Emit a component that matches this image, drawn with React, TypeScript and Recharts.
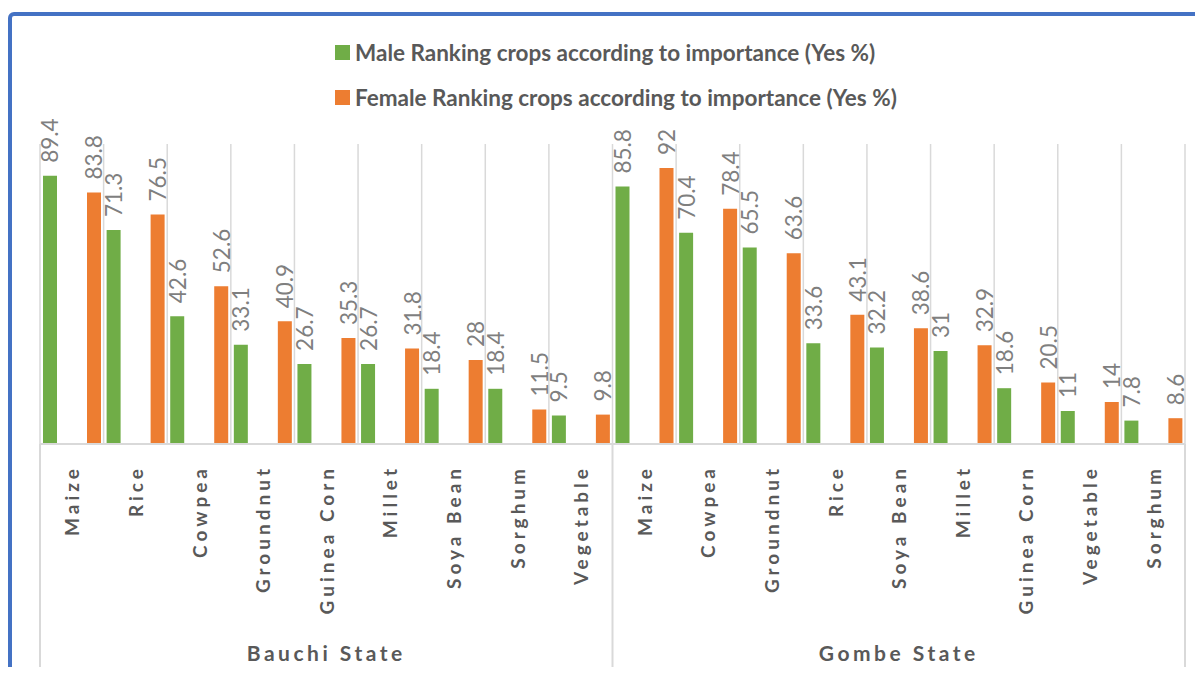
import React from "react";
import { BarChart, Bar, XAxis, YAxis, CartesianGrid, Legend, LabelList } from "recharts";

const bauchiCrops = ["Maize", "Rice", "Cowpea", "Groundnut", "Guinea Corn", "Millet", "Soya Bean", "Sorghum", "Vegetable"];
const bauchiMale = [89.4, 71.3, 42.6, 33.1, 26.7, 26.7, 18.4, 18.4, 9.5];
const bauchiFemale = [83.8, 76.5, 52.6, 40.9, 35.3, 31.8, 28, 11.5, 9.8];

const gombeCrops = ["Maize", "Cowpea", "Groundnut", "Rice", "Soya Bean", "Millet", "Guinea Corn", "Vegetable", "Sorghum"];
const gombeMale = [85.8, 70.4, 65.5, 33.6, 32.2, 31, 18.6, 11, 7.8];
const gombeFemale = [92, 78.4, 63.6, 43.1, 38.6, 32.9, 20.5, 14, 8.6];

const states = ["Bauchi State", "Gombe State"];
const seriesNames = [
  "Male Ranking crops according to importance (Yes %)",
  "Female Ranking crops according to importance (Yes %)",
];

const data = [
  ...bauchiCrops.map((crop, i) => ({ crop, state: states[0], male: bauchiMale[i], female: bauchiFemale[i] })),
  ...gombeCrops.map((crop, i) => ({ crop, state: states[1], male: gombeMale[i], female: gombeFemale[i] })),
];

const W = 1203;
const H = 675;
const margin = { top: 144, right: 18, bottom: 0, left: 40 };
const AXIS_H = 231;
const GROUP = 9;
const band = (W - margin.left - margin.right) / data.length;
const FONT = "Lato, 'Open Sans', sans-serif";

const ValueLabel = (props: any) => {
  const { x, y, width, value } = props;
  const cx = x + width / 2;
  const ty = y - 13;
  return (
    <text
      x={cx}
      y={ty}
      transform={`rotate(-90 ${cx} ${ty})`}
      textAnchor="start"
      dominantBaseline="central"
      fill="#7f7f7f"
      fontSize={22.5}
      fontFamily={FONT}
    >
      {value}
    </text>
  );
};

const CropTick = (props: any) => {
  const { x, y, payload } = props;
  const idx = payload.index;
  const ly = y + 21;
  const item = data[idx];
  return (
    <g>
      <text
        x={x}
        y={ly}
        transform={`rotate(-90 ${x} ${ly})`}
        textAnchor="end"
        dominantBaseline="central"
        fill="#595959"
        fontSize={19}
        fontWeight="bold"
        letterSpacing={4}
        fontFamily={FONT}
      >
        {payload.value}
      </text>
      {idx % GROUP === 0 && (
        <line x1={x - band / 2} x2={x - band / 2} y1={y} y2={y + AXIS_H} stroke="#d9d9d9" strokeWidth={2} />
      )}
      {idx === data.length - 1 && (
        <line x1={x + band / 2} x2={x + band / 2} y1={y} y2={y + AXIS_H} stroke="#d9d9d9" strokeWidth={2} />
      )}
      {idx % GROUP === 4 && (
        <text
          x={x}
          y={y + 208}
          textAnchor="middle"
          dominantBaseline="central"
          fill="#595959"
          fontSize={21}
          fontWeight="bold"
          letterSpacing={3.5}
          fontFamily={FONT}
        >
          {item.state}
        </text>
      )}
    </g>
  );
};

const LegendRows = (props: any) => {
  const payload = [...(props.payload || [])].sort(
    (a: any, b: any) => seriesNames.indexOf(a.value) - seriesNames.indexOf(b.value)
  );
  return (
    <div style={{ fontFamily: FONT }}>
      {payload.map((entry: any) => (
        <div key={entry.value} style={{ display: "flex", alignItems: "center", height: 45 }}>
          <span style={{ display: "inline-block", width: 15, height: 15, background: entry.color, marginRight: 5 }} />
          <span style={{ color: "#595959", fontSize: 22.5, fontWeight: "bold", whiteSpace: "nowrap" }}>{entry.value}</span>
        </div>
      ))}
    </div>
  );
};

export default function App() {
  return (
    <div style={{ position: "relative", width: W, height: H, margin: -8, overflow: "hidden", background: "#fff" }}>
      <div
        style={{
          position: "absolute",
          left: 8,
          top: 12,
          width: W + 40,
          height: H + 40,
          border: "4px solid #4472c4",
          borderRadius: 6,
        }}
      />
      <div style={{ position: "absolute", left: 0, top: 0 }}>
        <BarChart width={W} height={H} data={data} margin={margin} barSize={14} barGap={30}>
          <CartesianGrid
            horizontal={false}
            stroke="#d9d9d9"
            strokeWidth={1.5}
            verticalCoordinatesGenerator={({ offset }: any) =>
              Array.from({ length: data.length + 1 }, (_, i) => offset.left + (i * offset.width) / data.length)
            }
          />
          <XAxis
            dataKey="crop"
            interval={0}
            height={AXIS_H}
            tickLine={false}
            tickSize={0}
            tickMargin={0}
            axisLine={{ stroke: "#d9d9d9", strokeWidth: 2 }}
            tick={<CropTick />}
          />
          <YAxis hide domain={[0, 100]} />
          <Legend
            layout="horizontal"
            verticalAlign="middle"
            align="center"
            content={<LegendRows />}
            wrapperStyle={{ top: 30, left: 335, width: "auto" }}
          />
          <Bar dataKey="male" name={seriesNames[0]} fill="#70ad47" isAnimationActive={false}>
            <LabelList dataKey="male" content={<ValueLabel />} />
          </Bar>
          <Bar dataKey="female" name={seriesNames[1]} fill="#ed7d31" isAnimationActive={false}>
            <LabelList dataKey="female" content={<ValueLabel />} />
          </Bar>
        </BarChart>
      </div>
    </div>
  );
}
